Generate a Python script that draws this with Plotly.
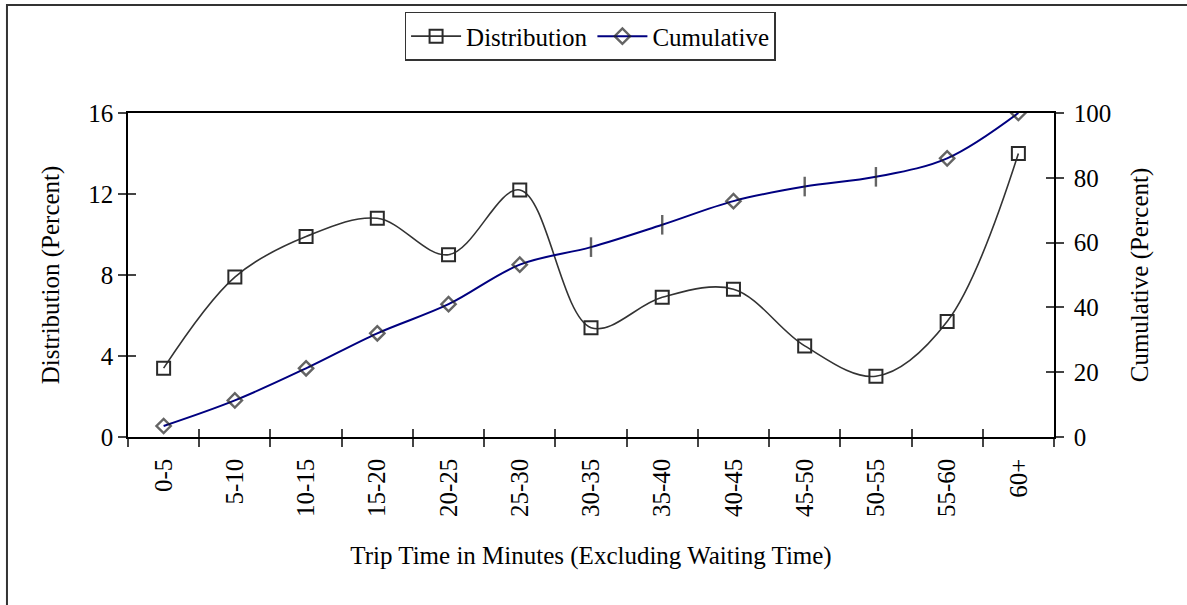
import plotly.graph_objects as go

categories = ["0-5", "5-10", "10-15", "15-20", "20-25", "25-30", "30-35",
              "35-40", "40-45", "45-50", "50-55", "55-60", "60+"]
distribution = [3.4, 7.9, 9.9, 10.8, 9.0, 12.2, 5.4, 6.9, 7.3, 4.5, 3.0, 5.7, 14.0]
cumulative = [3.4, 11.3, 21.2, 32.0, 41.0, 53.2, 58.6, 65.5, 72.8, 77.3, 80.3, 86.0, 100.0]
cum_symbols = ["diamond-open"] * 6 + ["line-ns-open", "line-ns-open", "diamond-open",
                                      "line-ns-open", "line-ns-open", "diamond-open", "diamond-open"]
cum_sizes = [11] * 6 + [14, 14, 11, 14, 14, 11, 11]
left_ticks = [0, 4, 8, 12, 16]
right_ticks = [0, 20, 40, 60, 80, 100]

FONT = "Liberation Serif, Times New Roman, serif"
FS = 25
TICKC = "#444444"

fig = go.Figure()
fig.add_trace(go.Scatter(
    x=categories, y=distribution, name="Distribution", mode="lines+markers",
    line=dict(color="#333333", width=1.6, shape="spline", smoothing=1.0),
    marker=dict(symbol="square-open", size=13, color="#2a2a2a", line=dict(width=2)),
    xaxis="x", yaxis="y"))
fig.add_trace(go.Scatter(
    x=categories, y=cumulative, name="Cumulative", mode="lines+markers",
    line=dict(color="#000080", width=2, shape="spline", smoothing=1.0),
    marker=dict(symbol=cum_symbols, size=cum_sizes, color="#222222", line=dict(width=2.4)),
    xaxis="x", yaxis="y2"))
# invisible helper traces carrying the inside halves of the crossing tick marks
fig.add_trace(go.Scatter(x=categories, y=distribution, mode="lines", opacity=0,
                         showlegend=False, hoverinfo="skip", xaxis="x2", yaxis="y3"))
fig.add_trace(go.Scatter(x=categories, y=cumulative, mode="lines", opacity=0,
                         showlegend=False, hoverinfo="skip", xaxis="x2", yaxis="y4"))

fig.update_layout(
    width=1187, height=605,
    margin=dict(l=128, r=133, t=113, b=168, autoexpand=False),
    paper_bgcolor="white", plot_bgcolor="white",
    font=dict(family=FONT, size=FS, color="black"),
    showlegend=True,
    legend=dict(orientation="h", x=0.499, xanchor="center", y=1.312, yanchor="top",
                bordercolor="#333333", borderwidth=1.5, bgcolor="white",
                font=dict(family=FONT, size=FS), itemwidth=50, tracegroupgap=0),
    xaxis=dict(type="category", categoryorder="array", categoryarray=categories,
               range=[-0.5, 12.5], tickson="boundaries", ticks="outside", ticklen=8,
               tickcolor=TICKC, tickwidth=1.5, tickangle=-90, showline=True,
               linecolor="black", linewidth=1.5, mirror=True, showgrid=False,
               zeroline=False, tickfont=dict(family=FONT, size=FS), ticklabelstandoff=10,
               title=dict(text="Trip Time in Minutes (Excluding Waiting Time)",
                          font=dict(family=FONT, size=FS), standoff=30)),
    xaxis2=dict(type="category", categoryorder="array", categoryarray=categories,
                range=[-0.5, 12.5], tickson="boundaries", ticks="inside", ticklen=8,
                tickcolor=TICKC, tickwidth=1.5, showticklabels=False, overlaying="x",
                side="bottom", showline=False, showgrid=False, zeroline=False),
    yaxis=dict(range=[0, 16], tickvals=left_ticks, ticks="outside", ticklen=8,
               tickcolor=TICKC, tickwidth=1.5, showline=True, linecolor="black",
               linewidth=1.5, showgrid=False, zeroline=False,
               tickfont=dict(family=FONT, size=FS),
               title=dict(text="Distribution (Percent)", font=dict(family=FONT, size=FS),
                          standoff=22)),
    yaxis2=dict(range=[0, 100], tickvals=right_ticks, ticks="outside", ticklen=8,
                tickcolor=TICKC, tickwidth=1.5, showline=True, linecolor="black",
                linewidth=1.5, overlaying="y", side="right", showgrid=False,
                zeroline=False, tickfont=dict(family=FONT, size=FS), ticklabelstandoff=5,
                title=dict(text="Cumulative (Percent)", font=dict(family=FONT, size=FS),
                           standoff=20)),
    yaxis3=dict(range=[0, 16], tickvals=left_ticks, ticks="inside", ticklen=8,
                tickcolor=TICKC, tickwidth=1.5, showticklabels=False, overlaying="y",
                side="left", showline=False, showgrid=False, zeroline=False),
    yaxis4=dict(range=[0, 100], tickvals=right_ticks, ticks="inside", ticklen=8,
                tickcolor=TICKC, tickwidth=1.5, showticklabels=False, overlaying="y",
                side="right", showline=False, showgrid=False, zeroline=False),
    shapes=[dict(type="rect", xref="paper", yref="paper", x0=-0.1307, x1=1.35,
                 y0=-0.8, y1=1.333, line=dict(color="#333333", width=2),
                 fillcolor="rgba(0,0,0,0)", layer="above")],
)

fig.write_html("out.html", config={"displayModeBar": False},
               post_script="document.body.style.margin='0';")
